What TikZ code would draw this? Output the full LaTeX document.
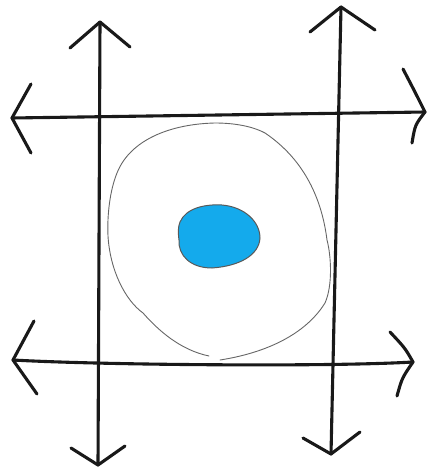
\documentclass[tikz,border=0pt]{standalone}
\begin{document}
\begin{tikzpicture}[x=1pt,y=-1pt,
  axis/.style={draw=black!90,line width=3.1pt,line cap=round,line join=round},
  ring/.style={draw=black!60,line width=0.9pt,line cap=round},
  blob/.style={draw=black!65,line width=1pt,fill={rgb,255:red,20;green,170;blue,236}}]
\useasboundingbox (0,0) rectangle (431,476);
% vertical left
\coordinate (v1t) at (100,22);
\coordinate (v1b) at (98,465);
\coordinate (v1ta) at (70,48);
\coordinate (v1tb) at (130,47);
\coordinate (v1ba) at (71,448);
\coordinate (v1bb) at (125,446);
% vertical right
\coordinate (v2t) at (341,7);
\coordinate (v2b) at (331,454);
\coordinate (v2ta) at (310,32);
\coordinate (v2tb) at (375,30);
\coordinate (v2ba) at (303,438);
\coordinate (v2bb) at (360,432);
% horizontal top
\coordinate (h1l) at (12,118);
\coordinate (h1r) at (425,112);
\coordinate (h1la) at (31,84);
\coordinate (h1lb) at (31,153);
\coordinate (h1ra) at (403,69);
\coordinate (h1rb) at (412,143);
% horizontal bottom
\coordinate (h2l) at (13,360);
\coordinate (h2r) at (413,362);
\coordinate (h2la) at (34,321);
\coordinate (h2lb) at (37,394);
\coordinate (h2ra) at (390,332);
\coordinate (h2rb) at (397,396);
% lines
\draw[axis] (v1t) -- (v1b);
\draw[axis] (v2t) -- (v2b);
\draw[axis] (h1l) -- (h1r);
\draw[axis] (h2l) .. controls (100,365) and (330,367) .. (h2r);
% heads
\draw[axis] (v1ta) -- (v1t) -- (v1tb);
\draw[axis] (v1ba) -- (v1b) -- (v1bb);
\draw[axis] (v2ta) -- (v2t) -- (v2tb);
\draw[axis] (v2ba) -- (v2b) -- (v2bb);
\draw[axis] (h1la) -- (h1l) -- (h1lb);
\draw[axis] (h1ra) .. controls (415,92) .. (h1r) .. controls (415,125) .. (h1rb);
\draw[axis] (h2la) -- (h2l) -- (h2lb);
\draw[axis] (h2ra) .. controls (405,348) .. (h2r) .. controls (402,378) .. (h2rb);
% ring
\draw[ring] (220,360) .. controls (265,353) and (305,335) .. (325,303)
  .. controls (333,285) and (331,255) .. (327,240)
  .. controls (322,200) and (305,160) .. (265,133)
  .. controls (250,125) and (230,123) .. (215,123)
  .. controls (170,124) and (130,140) .. (117,173)
  .. controls (110,190) and (107,215) .. (108,236)
  .. controls (110,270) and (125,300) .. (143,313)
  .. controls (158,330) and (180,350) .. (209,356);
% blob
\draw[blob] (180,222) .. controls (186,208) and (205,204) .. (222,205)
  .. controls (245,207) and (260,222) .. (260,238)
  .. controls (259,255) and (240,266) .. (212,268)
  .. controls (190,268) and (178,255) .. (179,240)
  .. controls (178,232) and (178,227) .. cycle;
\end{tikzpicture}
\end{document}
